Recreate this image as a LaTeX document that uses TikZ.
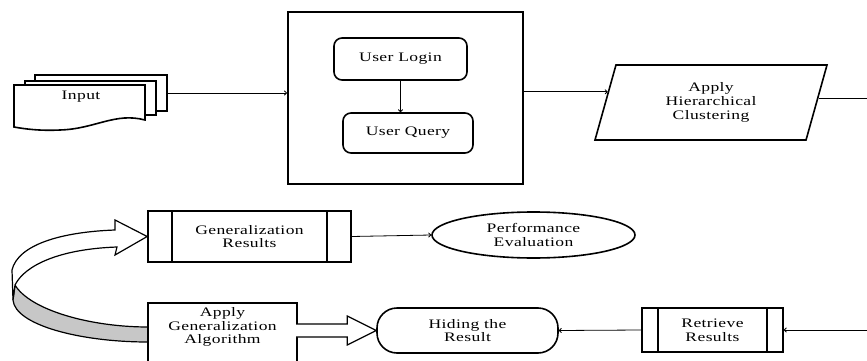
\documentclass[tikz,border=0pt]{standalone}
\usepackage{fontspec}
\setmainfont{Liberation Serif}[FakeStretch=1.35, LetterSpace=3]
\usetikzlibrary{shapes.geometric, calc, arrows.meta}

\begin{document}
\begin{tikzpicture}[x=1pt, y=-1pt,
  every node/.style={font=\fontsize{13}{13.8}\selectfont, align=center, inner sep=0pt},
  frame/.style={draw, line width=1.6pt},
  sheet/.style={frame, fill=white},
  rbox/.style={frame, rounded corners=8pt},
  pbox/.style={frame, fill=white},
  link/.style={line width=0.8pt},
  conn/.style={line width=0.8pt, -{To[length=3pt,width=5pt]}},
  ribbon/.style={line width=1.2pt}
]
\useasboundingbox (0,0) rectangle (867,361);
\clip (0,0) rectangle (867,361);
\fill[white] (0,0) rectangle (867,361);
\coordinate (rim) at (867,0);

% stacked input documents
\node[sheet, minimum width=132, minimum height=36] (in3) at (101,93) {};
\node[sheet, minimum width=131, minimum height=34] (in2) at (90.5,98) {};
\draw[frame, fill=white] (14,85) -- (145,85) -- (145,120)
  .. controls (115,112) and (95,129) .. (60,130)
  .. controls (40,131) and (25,129) .. (14,127) -- cycle;
\node (input) at (81,97) {Input};

% login / query block
\node[frame, line width=2pt, minimum width=235, minimum height=172] (main) at (405.5,98) {};
\node[rbox, minimum width=133, minimum height=42] (login) at (400.5,59) {User Login};
\node[rbox, minimum width=130, minimum height=40] (query) at (408,133) {User Query};
\draw[conn] (login.south) -- (login.south |- query.north);
\draw[conn] (in3.east) -- (in3.east -| main.west);

% clustering step
\node[trapezium, frame, fill=white, trapezium left angle=62, trapezium right angle=118,
      trapezium stretches body, minimum width=232, minimum height=75] (clus) at (711,102.5)
      {Apply\\Hierarchical\\Clustering};
\coordinate (clusIn) at ($(clus.bottom left corner)!0.64!(clus.top left corner)$);
\coordinate (clusOut) at ($(clus.bottom right corner)!0.56!(clus.top right corner)$);
\draw[conn] (main.east |- clusIn) -- (clusIn);
\draw[link] (clusOut) -- (clusOut -| rim);

% lower row
\node[pbox, minimum width=203, minimum height=51] (gr) at (249.5,236.5) {Generalization\\Results};
\draw[frame] ([xshift=25pt]gr.north west) -- ([xshift=25pt]gr.south west);
\draw[frame] ([xshift=-25pt]gr.north east) -- ([xshift=-25pt]gr.south east);

\node[ellipse, frame, minimum width=203, minimum height=46] (perf) at (533.5,235) {Performance\\Evaluation};
\draw[conn] (gr.east) -- (perf.west);

\node[frame, rounded corners=20pt, minimum width=181, minimum height=45] (hide) at (467.5,330.5) {Hiding the\\Result};

\node[pbox, minimum width=141, minimum height=44] (retr) at (712.5,330) {Retrieve\\Results};
\draw[frame] ([xshift=17pt]retr.north west) -- ([xshift=17pt]retr.south west);
\draw[frame] ([xshift=-17pt]retr.north east) -- ([xshift=-17pt]retr.south east);
\draw[conn] (retr.west) -- (hide.east);
\draw[conn] (retr.east -| rim) -- (retr.east);

% curved ribbon arrow looping back to the results: grey underside, then white front
\draw[ribbon, fill=black!22] (15,285) .. controls (30,310) and (90,327) .. (148,327)
  -- (148,342) .. controls (80,342) and (15,325) .. (13,300) -- cycle;
\draw[ribbon, fill=white] (12,270) .. controls (18,245) and (60,232) .. (115,230)
  -- (115,220) -- (gr.west) -- (115,255) -- (117,247)
  .. controls (60,249) and (25,265) .. (15,285) -- (13,300) -- (12,270) -- cycle;

% generalization algorithm box (runs past the lower edge)
\node[minimum width=149, minimum height=48] (alg) at (222.5,327) {Apply\\Generalization\\Algorithm};
\draw[frame] (alg.north west) rectangle ++(149,70);

% block arrow into the hiding step
\coordinate (tip) at (hide.west);
\draw[ribbon, fill=white] ($(tip -| alg.east)+(-1,-6.5)$) -- ($(tip)+(-29,-6.5)$)
  -- ($(tip)+(-29,-14.5)$) -- (tip) -- ($(tip)+(-29,14.5)$) -- ($(tip)+(-29,6.5)$)
  -- ($(tip -| alg.east)+(-1,6.5)$);
\end{tikzpicture}
\end{document}
